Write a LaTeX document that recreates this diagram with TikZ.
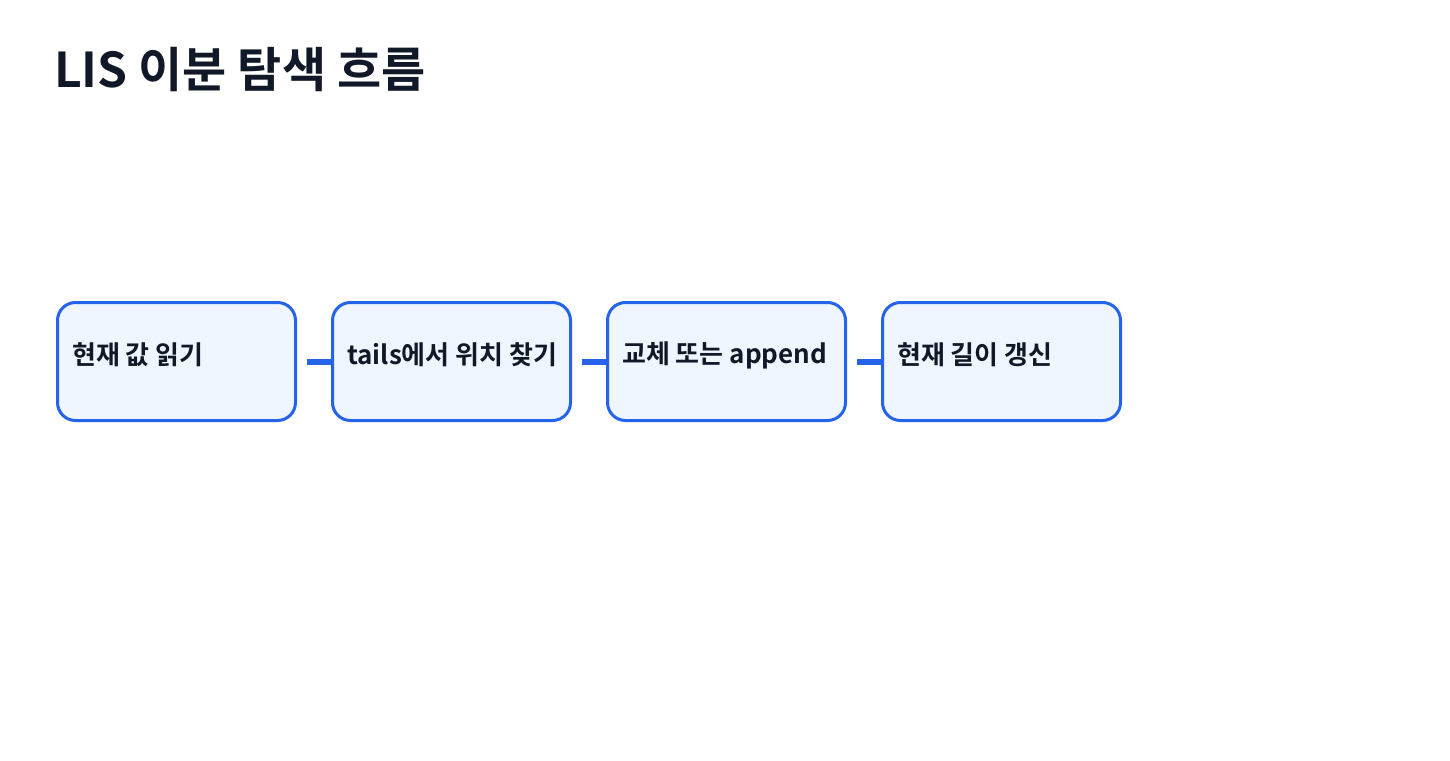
\documentclass[tikz,border=0pt]{standalone}
\usepackage{fontspec}
\setmainfont{Noto Sans CJK KR}[BoldFont={Noto Sans CJK KR Bold}]
\definecolor{bd}{HTML}{2563EB}
\definecolor{bg}{HTML}{EFF6FF}
\definecolor{tx}{HTML}{111827}
\begin{document}
\begin{tikzpicture}[x=1pt,y=-1pt,
  box/.style={draw=bd,fill=bg,line width=3pt,rounded corners=18pt,minimum width=238pt,minimum height=118pt,anchor=north west,inner sep=0pt},
  lab/.style={anchor=west,text=tx,font=\bfseries\fontsize{26}{30}\selectfont,inner sep=0pt},
  con/.style={draw=bd,line width=6pt}]
\useasboundingbox (0,0) rectangle (1450,760);
\node[anchor=west,text=tx,font=\bfseries\fontsize{48}{54}\selectfont,inner sep=0pt] (title) at (54,70) {LIS 이분 탐색 흐름};
\foreach \i/\x/\t in {1/56/현재 값 읽기,2/331/tails에서 위치 찾기,3/606/교체 또는 append,4/881/현재 길이 갱신}{
  \node[box] (b\i) at (\x,301) {};
  \node[lab] (l\i) at (\x+16,355) {\t};
}
\foreach \i/\j in {1/2,2/3,3/4}{
  \coordinate (s\i) at ([xshift=10pt]b\i.east);
  \draw[con] (s\i) -- (b\j.west);
}
\end{tikzpicture}
\end{document}
